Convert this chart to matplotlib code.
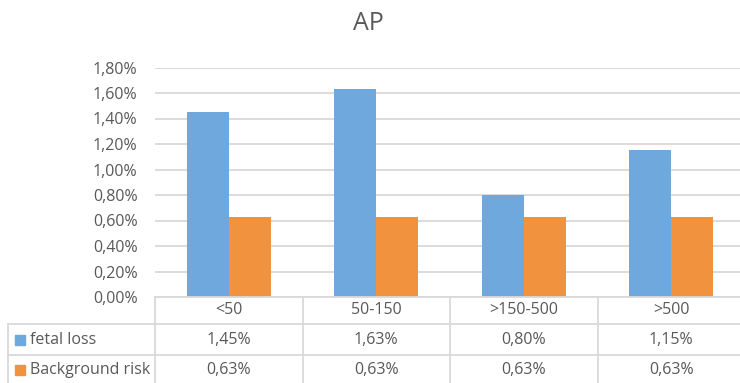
import numpy as np
import matplotlib.pyplot as plt
from matplotlib.lines import Line2D
from matplotlib.patches import Rectangle
from matplotlib.ticker import FuncFormatter

# chart data
categories = ['<50', '50-150', '>150-500', '>500']
series_names = ['fetal loss', 'Background risk']
fetal_loss = [1.45, 1.63, 0.80, 1.15]
background_risk = [0.63, 0.63, 0.63, 0.63]
yticks = [0.0, 0.2, 0.4, 0.6, 0.8, 1.0, 1.2, 1.4, 1.6, 1.8]

blue = '#6fa8dc'
orange = '#f0923e'
grid_c = '#d9d9d9'
text_c = '#595959'
fs = 11.5

plt.rcParams['font.family'] = ['Open Sans', 'DejaVu Sans']

W, H = 740, 383
fig = plt.figure(figsize=(W / 100, H / 100), dpi=100)

# pixel helpers (origin top-left)
def fx(x):
    return x / W

def fy(y):
    return 1 - y / H

x0, x1 = 155, 745      # plot area left/right
y0, y1 = 297, 67.5     # baseline and top gridline
ax = fig.add_axes([fx(x0), fy(y0), fx(x1) - fx(x0), fy(y1) - fy(y0)])

n = len(categories)
xs = np.arange(n)
bw = 0.285
ax.bar(xs - bw / 2, fetal_loss, bw, color=blue, zorder=3)
ax.bar(xs + bw / 2, background_risk, bw, color=orange, zorder=3)

ax.set_xlim(-0.5, n - 0.5)
ax.set_ylim(0, 1.8)
ax.set_yticks(yticks)
ax.yaxis.set_major_formatter(FuncFormatter(lambda v, p: f'{v:.2f}%'.replace('.', ',')))
ax.tick_params(axis='y', length=0, pad=12.5, labelsize=fs, labelcolor=text_c)
ax.set_xticks([])
ax.grid(axis='y', color=grid_c, linewidth=1.3, zorder=0)
for s in ax.spines.values():
    s.set_visible(False)

fig.text(fx(368), fy(24), 'AP', ha='center', va='center', fontsize=18, color=text_c)

# data table under the plot
col_w = (x1 - x0) / n
rows = [297, 324, 355, 384]
lw = 1.3

def hline(y, xa, xb):
    fig.add_artist(Line2D([fx(xa), fx(xb)], [fy(y), fy(y)], color=grid_c, lw=lw))

def vline(x, ya, yb):
    fig.add_artist(Line2D([fx(x), fx(x)], [fy(ya), fy(yb)], color=grid_c, lw=lw))

hline(rows[0], x0, x1)
hline(rows[1], 8, x1)
hline(rows[2], 8, x1)
vline(8, rows[1], rows[3])
for i in range(n + 1):
    vline(x0 + i * col_w, rows[0], rows[3])

for i, c in enumerate(categories):
    cx = x0 + (i + 0.5) * col_w
    fig.text(fx(cx), fy((rows[0] + rows[1]) / 2), c, ha='center', va='center',
             fontsize=fs, color=text_c)

for r, (name, vals, col) in enumerate(zip(series_names, [fetal_loss, background_risk], [blue, orange])):
    cy = (rows[r + 1] + rows[r + 2]) / 2
    fig.add_artist(Rectangle((fx(15), fy(cy + 5)), fx(10), 10 / H, color=col,
                             transform=fig.transFigure))
    fig.text(fx(30), fy(cy), name, ha='left', va='center', fontsize=fs, color=text_c)
    for i, v in enumerate(vals):
        cx = x0 + (i + 0.5) * col_w
        fig.text(fx(cx), fy(cy), f'{v:.2f}%'.replace('.', ','), ha='center', va='center',
                 fontsize=fs, color=text_c)

fig.savefig('out.png', dpi=100)
